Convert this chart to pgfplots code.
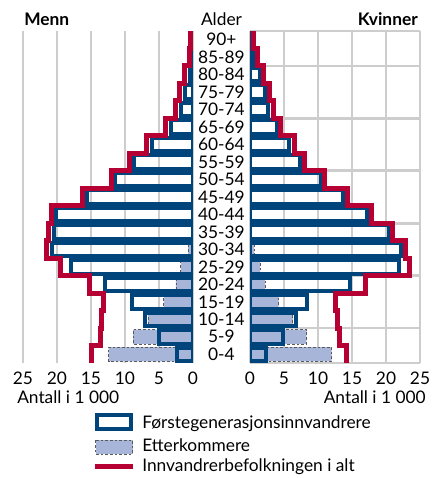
\documentclass[border=0pt]{standalone}
\usepackage{fontspec}
\setmainfont{Lato}
\usepackage{pgfplots}
\pgfplotsset{compat=1.18}

\definecolor{ssbblue}{RGB}{0,68,124}
\definecolor{ssbred}{RGB}{182,0,52}
\definecolor{ssblight}{RGB}{167,182,216}
\definecolor{gridgray}{RGB}{205,205,205}
\definecolor{dashgray}{RGB}{90,90,90}
\newcommand\lbl{\fontsize{13}{15}\selectfont}

\pgfplotsset{
  pyr/.style={
    scale only axis, width=127.5pt, height=249pt, anchor=south west,
    xmin=0, xmax=25, ymin=-0.5, ymax=18.5,
    xtick={0,5,...,25}, major tick length=0, minor tick length=0,
    xmajorgrids,
    grid style={draw=gridgray, line width=2pt},
    minor grid style={draw=gridgray, line width=2pt},
    axis line style={draw=none},
    tick label style={font=\lbl},
    xticklabel style={yshift=-3pt},
    /pgf/number format/assume math mode=true,
  },
  first/.style={xbar, bar shift=0pt, bar width=10.1pt, draw=ssbblue, line width=3pt, fill=none},
  desc/.style={xbar, bar shift=0pt, bar width=10.8pt, draw=dashgray, line width=0.6pt,
    dash pattern=on 2pt off 1.5pt, fill=ssblight},
  total/.style={ssbred, line width=3.75pt, line join=miter, mark=none},
}

\begin{document}
\begin{tikzpicture}[x=0.75pt, y=0.75pt]
\path[use as bounding box] (0,0) rectangle (434,478);

% Menn
\begin{axis}[pyr, at={(17.25pt,86.25pt)}, x dir=reverse,
    ytick=\empty, minor ytick={-0.5,1.5,4.5,7.5,10.5,13.5,16.5,18.5}, yminorgrids]
\addplot[desc] coordinates {(12.4,0) (8.8,1) (6.6,2) (4.3,3) (2.5,4) (1.8,5) (0.7,6)};
\addplot[first] coordinates {(2.3,0) (5.0,1) (7.1,2) (8.9,3) (12.9,4) (18.0,5) (20.8,6)
  (20.5,7) (20.1,8) (15.6,9) (11.4,10) (8.7,11) (6.1,12) (3.3,13) (1.8,14) (1.2,15)
  (0.4,16) (0.15,17) (0.1,18)};
\addplot[total] coordinates {(14.9,-0.5) (14.9,0.5) (13.6,0.5) (13.6,1.5) (13.5,1.5)
  (13.5,2.5) (13.2,2.5) (13.2,3.5) (15.2,3.5) (15.2,4.5) (19.5,4.5) (19.5,5.5)
  (21.6,5.5) (21.6,6.5) (21.3,6.5) (21.3,7.5) (20.8,7.5) (20.8,8.5) (16.3,8.5)
  (16.3,9.5) (12.0,9.5) (12.0,10.5) (9.4,10.5) (9.4,11.5) (6.8,11.5) (6.8,12.5)
  (4.1,12.5) (4.1,13.5) (2.6,13.5) (2.6,14.5) (2.0,14.5) (2.0,15.5) (1.25,15.5)
  (1.25,16.5) (0.56,16.5) (0.56,17.5) (0.37,17.5) (0.37,18.5)};
\end{axis}

% Kvinner
\begin{axis}[pyr, at={(187.5pt,86.25pt)},
    ytick={0,...,18},
    yticklabels={0-4,5-9,10-14,15-19,20-24,25-29,30-34,35-39,40-44,45-49,50-54,
      55-59,60-64,65-69,70-74,75-79,80-84,85-89,90+},
    yticklabel style={anchor=center, xshift=-21.4pt},
    minor ytick={-0.5,1.5,4.5,7.5,10.5,13.5,16.5,18.5}, yminorgrids]
\addplot[desc] coordinates {(12.0,0) (8.3,1) (6.3,2) (4.2,3) (2.2,4) (1.5,5) (0.6,6)};
\addplot[first] coordinates {(2.3,0) (4.8,1) (6.7,2) (8.4,3) (14.7,4) (21.9,5) (22.2,6)
  (20.4,7) (17.2,8) (13.7,9) (10.4,10) (7.3,11) (5.8,12) (3.9,13) (2.7,14) (2.2,15)
  (1.4,16) (0.4,17) (0.2,18)};
\addplot[total] coordinates {(14.2,-0.5) (14.2,0.5) (13.2,0.5) (13.2,1.5) (12.9,1.5)
  (12.9,2.5) (12.6,2.5) (12.6,3.5) (17.0,3.5) (17.0,4.5) (23.4,4.5) (23.4,5.5)
  (22.9,5.5) (22.9,6.5) (21.0,6.5) (21.0,7.5) (17.9,7.5) (17.9,8.5) (14.4,8.5)
  (14.4,9.5) (11.0,9.5) (11.0,10.5) (8.0,10.5) (8.0,11.5) (6.5,11.5) (6.5,12.5)
  (4.5,12.5) (4.5,13.5) (3.4,13.5) (3.4,14.5) (2.9,14.5) (2.9,15.5) (2.0,15.5)
  (2.0,16.5) (1.1,16.5) (1.1,17.5) (0.56,17.5) (0.56,18.5)};
\end{axis}

% titles
\node[anchor=base west, font=\lbl\bfseries, inner sep=0] at (24,452) {Menn};
\node[anchor=base east, font=\lbl\bfseries, inner sep=0] at (418,452) {Kvinner};
\node[anchor=base, font=\lbl, inner sep=0] at (221.5,452) {Alder};
\node[anchor=base west, font=\lbl, inner sep=0] at (17,74) {Antall i 1 000};
\node[anchor=base east, font=\lbl, inner sep=0] at (426,74) {Antall i 1 000};

% legend
\draw[ssbblue, line width=3pt] (97,63) rectangle (131,49);
\node[anchor=base west, font=\lbl, inner sep=0] at (142,49.5) {Førstegenerasjonsinnvandrere};
\draw[dashgray, line width=0.6pt, dash pattern=on 2pt off 1.5pt, fill=ssblight] (95.5,37.5) rectangle (132.5,24);
\node[anchor=base west, font=\lbl, inner sep=0] at (142,26.3) {Etterkommere};
\draw[ssbred, line width=3.75pt] (95,11.5) -- (133,11.5);
\node[anchor=base west, font=\lbl, inner sep=0] at (142,6.3) {Innvandrerbefolkningen i alt};
\end{tikzpicture}
\end{document}
